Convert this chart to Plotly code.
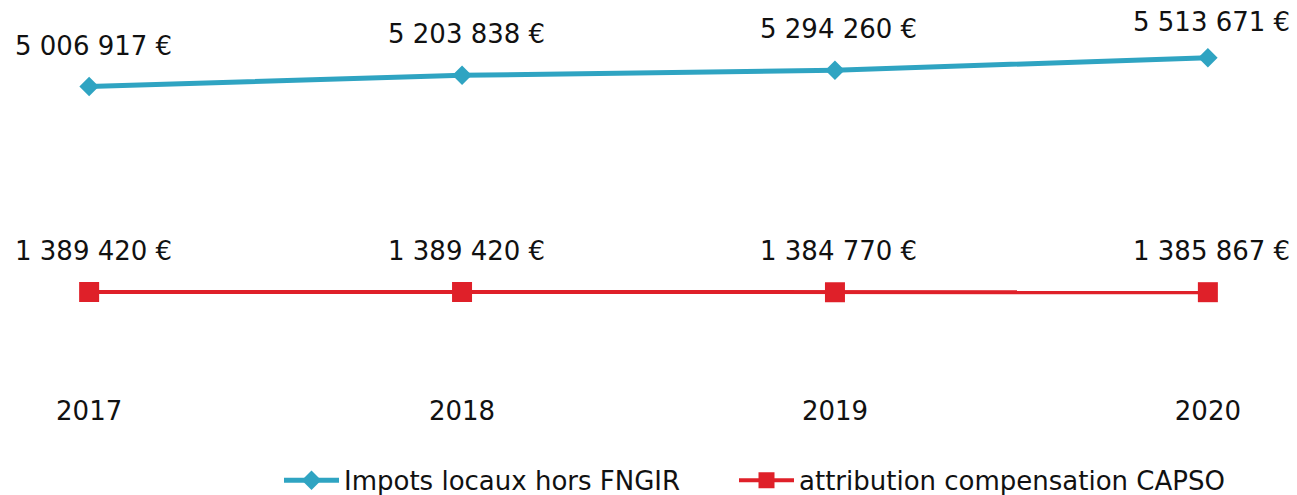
import plotly.graph_objects as go

years = [2017, 2018, 2019, 2020]
impots = [5006917, 5203838, 5294260, 5513671]
attribution = [1389420, 1389420, 1384770, 1385867]
series_names = ["Impots locaux hors FNGIR", "attribution compensation CAPSO"]

BLUE = "#2fa4c2"
RED = "#df2029"
FONT = "DejaVu Sans"

W, H = 1297, 495
MB = 102
Y_RANGE = [-389000, 6530000]
PLOT_H = H - MB

def fmt(v):
    return f"{v:,}".replace(",", " ") + " €"

def label_shift(v, wanted=41, min_top=22):
    # keep the data label inside the top of the chart
    py = PLOT_H * (Y_RANGE[1] - v) / (Y_RANGE[1] - Y_RANGE[0])
    return min(wanted, py - min_top)

fig = go.Figure()
fig.add_trace(go.Scatter(
    x=years, y=impots, name=series_names[0], mode="lines+markers",
    line=dict(color=BLUE, width=5),
    marker=dict(symbol="diamond", size=15, color=BLUE),
    legend="legend",
))
fig.add_trace(go.Scatter(
    x=years, y=attribution, name=series_names[1], mode="lines+markers",
    line=dict(color=RED, width=4),
    marker=dict(symbol="square", size=20, color=RED),
    legend="legend2",
))

for series in (impots, attribution):
    for x, v in zip(years, series):
        fig.add_annotation(x=x, y=v, text=fmt(v), showarrow=False,
                           yshift=label_shift(v), xshift=4,
                           font=dict(family=FONT, size=26, color="#111111"))

legend_common = dict(orientation="h", y=-0.222, yanchor="middle", xanchor="left",
                     font=dict(family=FONT, size=26, color="#111111"),
                     itemwidth=55, bgcolor="rgba(0,0,0,0)")

fig.update_layout(
    width=W, height=H,
    margin=dict(l=0, r=0, t=0, b=MB, autoexpand=False),
    paper_bgcolor="white", plot_bgcolor="white",
    font=dict(family=FONT, size=26, color="#111111"),
    showlegend=True,
    legend=dict(x=279 / W, **legend_common),
    legend2=dict(x=734 / W, **legend_common),
    xaxis=dict(range=[2016.761, 2020.239], tickvals=years, ticktext=[str(y) for y in years],
               showgrid=False, zeroline=False, showline=False, ticks="",
               tickfont=dict(family=FONT, size=26, color="#111111")),
    yaxis=dict(range=Y_RANGE, visible=False, showgrid=False, zeroline=False),
)

fig.write_html("out.html", config={"displayModeBar": False},
               post_script="document.body.style.margin='0';")
